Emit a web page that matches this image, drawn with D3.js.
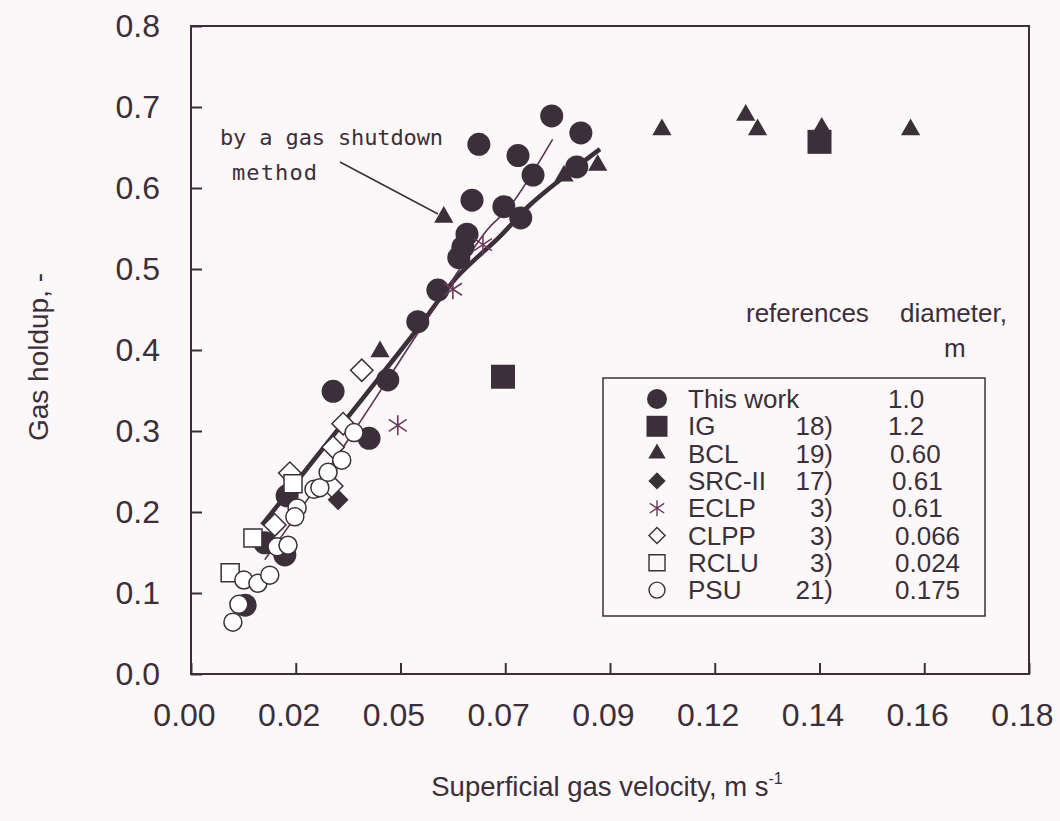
<!DOCTYPE html>
<html><head><meta charset="utf-8">
<script src="https://cdn.jsdelivr.net/npm/d3@7"></script>
<style>
html,body{margin:0;padding:0;background:#fcf8f9;}
svg{display:block;}
</style></head>
<body><svg id="c" width="1060" height="821"></svg>
<script>
// ---------- data (superficial gas velocity m/s, gas holdup -) ----------
const xTickLabels = ["0.00","0.02","0.05","0.07","0.09","0.12","0.14","0.16","0.18"];
const xTickStep = 0.023;
const yTickValues = [0,0.1,0.2,0.3,0.4,0.5,0.6,0.7,0.8];

const thisWork = [[0.0792,0.689],[0.0856,0.668],[0.0718,0.640],[0.0751,0.616],[0.0847,0.626],
  [0.0687,0.577],[0.0724,0.563],[0.0632,0.654],[0.0617,0.585],[0.0606,0.543],[0.0597,0.527],
  [0.0588,0.514],[0.0542,0.474],[0.0498,0.435],[0.0312,0.349],[0.0432,0.363],[0.0391,0.291],
  [0.0211,0.220],[0.0206,0.147],[0.0162,0.162],[0.0119,0.085]];
const ig = [[0.0685,0.367],[0.1380,0.657]];
const bcl = [[0.0555,0.564],[0.0415,0.398],[0.0819,0.615],[0.0893,0.628],[0.1034,0.672],
  [0.1218,0.690],[0.1244,0.672],[0.1385,0.674],[0.1580,0.672]];
const srcII = [[0.0323,0.215]];
const eclp = [[0.0454,0.307],[0.0575,0.475],[0.0641,0.530]];
const clpp = [[0.0375,0.375],[0.0334,0.309],[0.0312,0.280],[0.0217,0.248],[0.0309,0.232],[0.0184,0.184]];
const rclu = [[0.0224,0.235],[0.0136,0.168],[0.0086,0.125]];
const psu = [[0.0092,0.064],[0.0105,0.086],[0.0116,0.116],[0.0147,0.112],[0.0173,0.122],
  [0.0189,0.157],[0.0213,0.159],[0.0233,0.205],[0.0228,0.194],[0.0270,0.228],[0.0283,0.230],
  [0.0301,0.249],[0.0331,0.264],[0.0358,0.298]];
// correlation curves
const thickCurve = [[0.0156,0.184],[0.0244,0.246],[0.0371,0.336],[0.0496,0.425],[0.0584,0.490],
  [0.0678,0.540],[0.0744,0.579],[0.0810,0.610],[0.0898,0.648]];
const thinCurve = [[0.0162,0.141],[0.0239,0.202],[0.0364,0.305],[0.0503,0.425],[0.0650,0.548],
  [0.0700,0.577],[0.0794,0.660]];

const legendNames = ["This work","IG","BCL","SRC-II","ECLP","CLPP","RCLU","PSU"];
const legendRefs  = ["","18)","19)","17)","3)","3)","3)","21)"];
const legendDiams = ["1.0","1.2","0.60","0.61","0.61","0.066","0.024","0.175"];

// ---------- drawing ----------
const ink = "#3b2f39";
const asterColor = "#6a3a5c";
const sans = "Liberation Sans, Arial, sans-serif";
const svg = d3.select("#c");
const L = 191, R = 1029, T = 26, B = 674;
const x = d3.scaleLinear().domain([0, xTickStep*8]).range([L, R]);
const y = d3.scaleLinear().domain([0, 0.8]).range([B, T]);

// frame
svg.append("rect").attr("x",L).attr("y",T).attr("width",R-L).attr("height",B-T)
  .attr("fill","none").attr("stroke",ink).attr("stroke-width",2);

// axes
const yAxis = svg.append("g").attr("transform",`translate(${L},0)`)
  .call(d3.axisLeft(y).tickValues(yTickValues).tickFormat(d3.format(".1f")).tickSize(-11).tickPadding(31));
const xAxis = svg.append("g").attr("transform",`translate(0,${B})`)
  .call(d3.axisBottom(x).tickValues(xTickLabels.map((d,i)=>i*xTickStep))
    .tickFormat((d,i)=>xTickLabels[i]).tickSize(-11).tickPadding(29));
[yAxis,xAxis].forEach(a=>{
  a.select(".domain").remove();
  a.selectAll("line").attr("stroke",ink).attr("stroke-width",2);
  a.selectAll("text").attr("fill",ink).style("font-family",sans).style("font-size","32px");
});
xAxis.selectAll("text").attr("dx",-7);

// titles
svg.append("text").attr("transform","translate(48,357) rotate(-90)").attr("text-anchor","middle")
  .attr("fill",ink).style("font-family",sans).style("font-size","28px")
  .text("Gas holdup, -");
const xt = svg.append("text").attr("x",607).attr("y",796).attr("text-anchor","middle")
  .attr("fill",ink).style("font-family",sans).style("font-size","27.5px");
xt.append("tspan").text("Superficial gas velocity, m s");
xt.append("tspan").attr("dy",-12).style("font-size","16px").text("-1");

// curves
const line = d3.line().x(d=>x(d[0])).y(d=>y(d[1])).curve(d3.curveCatmullRom);
svg.append("path").datum(thickCurve).attr("d",line).attr("fill","none").attr("stroke",ink).attr("stroke-width",4.5);
svg.append("path").datum(thinCurve).attr("d",line).attr("fill","none").attr("stroke","#5a3150").attr("stroke-width",1.6);

// symbol helpers
const sym = (type,size)=>d3.symbol().type(type).size(size)();
const asterisk = s => `M0,${-s}L0,${s}M${-s*0.9},${-s*0.6}L${s*0.9},${s*0.6}M${-s*0.9},${s*0.6}L${s*0.9},${-s*0.6}`;
function draw(data, pathStr, fill, stroke, sw, rot){
  svg.append("g").selectAll("path").data(data).join("path")
    .attr("transform",d=>`translate(${x(d[0])},${y(d[1])})${rot?" rotate(45)":""}`)
    .attr("d",pathStr).attr("fill",fill).attr("stroke",stroke).attr("stroke-width",sw);
}
draw(thisWork, sym(d3.symbolCircle, Math.PI*11.5*11.5), ink, "none", 0);
draw(ig, sym(d3.symbolSquare, 24*24), ink, "none", 0);
draw(bcl, sym(d3.symbolTriangle, 160), ink, "none", 0);
draw(srcII, sym(d3.symbolSquare, 220), ink, "none", 0, true);
draw(eclp, asterisk(10), "none", asterColor, 1.6);
draw(clpp, sym(d3.symbolSquare, 250), "#ffffff", ink, 1.5, true);
draw(rclu, sym(d3.symbolSquare, 18*18), "#ffffff", ink, 1.5);
draw(psu, sym(d3.symbolCircle, Math.PI*9*9), "#ffffff", ink, 1.5);

// annotation
const mono = "DejaVu Sans Mono, monospace";
svg.append("text").attr("x",220).attr("y",145).attr("fill",ink).style("font-family",mono)
  .style("font-size","22px").attr("textLength",223).attr("lengthAdjust","spacing").text("by a gas shutdown");
svg.append("text").attr("x",232).attr("y",180).attr("fill",ink).style("font-family",mono)
  .style("font-size","22px").attr("textLength",85).attr("lengthAdjust","spacing").text("method");
svg.append("line").attr("x1",340).attr("y1",162).attr("x2",438).attr("y2",214)
  .attr("stroke",ink).attr("stroke-width",1.5);

// legend headers
svg.append("text").attr("x",746).attr("y",322).attr("fill",ink).style("font-family",sans).style("font-size","26px").text("references");
svg.append("text").attr("x",900).attr("y",322).attr("fill",ink).style("font-family",sans).style("font-size","26px").text("diameter,");
svg.append("text").attr("x",944).attr("y",357).attr("fill",ink).style("font-family",sans).style("font-size","26px").text("m");

// legend box
svg.append("rect").attr("x",603).attr("y",378).attr("width",382).attr("height",238)
  .attr("fill","#fcf8f9").attr("stroke",ink).attr("stroke-width",1.5);
const legSyms = [
  {p:sym(d3.symbolCircle, Math.PI*10*10), f:ink, s:"none", w:0},
  {p:sym(d3.symbolSquare, 21*21), f:ink, s:"none", w:0},
  {p:sym(d3.symbolTriangle, 130), f:ink, s:"none", w:0},
  {p:sym(d3.symbolSquare, 150), f:ink, s:"none", w:0, r:true},
  {p:asterisk(8), f:"none", s:asterColor, w:1.4},
  {p:sym(d3.symbolSquare, 130), f:"none", s:ink, w:1.4, r:true},
  {p:sym(d3.symbolSquare, 16*16), f:"none", s:ink, w:1.4},
  {p:sym(d3.symbolCircle, Math.PI*8*8), f:"none", s:ink, w:1.4}
];
const diamIndent = [0,0,2,4,4,7,7,7];
legendNames.forEach((n,i)=>{
  const by = 408 + i*27.3;
  const s = legSyms[i];
  svg.append("path").attr("d",s.p).attr("transform",`translate(657,${by-9})${s.r?" rotate(45)":""}`)
    .attr("fill",s.f).attr("stroke",s.s).attr("stroke-width",s.w);
  svg.append("text").attr("x",688).attr("y",by).attr("fill",ink).style("font-family",sans).style("font-size","26px").text(n);
  svg.append("text").attr("x",833).attr("y",by).attr("text-anchor","end").attr("fill",ink).style("font-family",sans).style("font-size","26px").text(legendRefs[i]);
  svg.append("text").attr("x",888+diamIndent[i]).attr("y",by).attr("fill",ink).style("font-family",sans).style("font-size","26px").text(legendDiams[i]);
});
</script></body></html>
